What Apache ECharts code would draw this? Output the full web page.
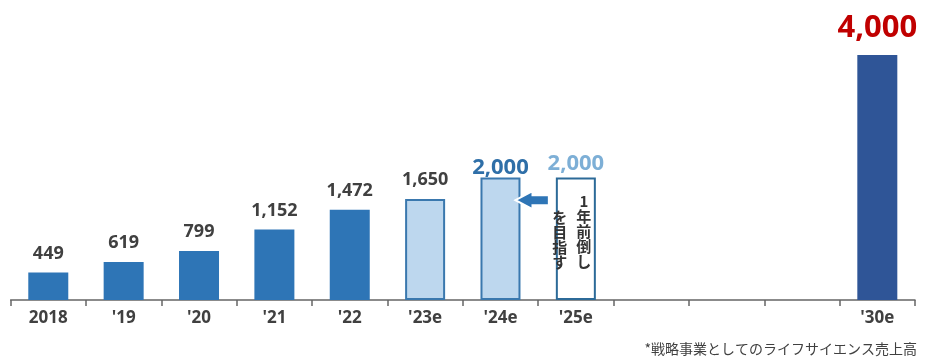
<!DOCTYPE html>
<html>
<head>
<meta charset="utf-8">
<script src="https://cdn.jsdelivr.net/npm/echarts@6/dist/echarts.min.js"></script>
<style>html,body{margin:0;padding:0;background:#fff;}#c{width:927px;height:362px;}</style>
</head>
<body>
<div id="c"></div>
<script>
const categories = ['2018', "'19", "'20", "'21", "'22", "'23e", "'24e", "'25e", '', '', '', "'30e"];
const values = [449, 619, 799, 1152, 1472, 1650, 2000, 2000, null, null, null, 4000];
const kinds = ['actual','actual','actual','actual','actual','plan','plan','target','none','none','none','goal'];
const noteRight = '1年前倒し';
const noteLeft = 'を目指す';
const footnote = '*戦略事業としてのライフサイエンス売上高';

const NUM_FONT = '"Open Sans", "Noto Sans", sans-serif';
const JP_FONT = '"Noto Sans CJK JP", sans-serif';

function fmt(v) { return String(v).replace(/\B(?=(\d{3})+(?!\d))/g, ','); }

const styleFor = {
  actual: { item: { color: '#2E75B6' }, label: { color: '#404040', fontSize: 18, distance: 10 } },
  plan: { item: { color: '#BDD7EE', borderColor: '#3A78AE', borderWidth: 2 }, label: { color: '#404040', fontSize: 18, distance: 10 } },
  target: { item: { color: '#FFFFFF', borderColor: '#2C6A98', borderWidth: 2 }, label: { color: '#7DAFD6', fontSize: 22, distance: 3 } },
  goal: { item: { color: '#2F5597' }, label: { color: '#C00000', fontSize: 31, distance: 11 } },
  none: { item: {}, label: {} }
};

const seriesData = values.map((v, i) => {
  const s = styleFor[kinds[i]];
  const d = { value: v, itemStyle: s.item, label: Object.assign({}, s.label) };
  if (i === 6) { d.label = { color: '#2F6FA8', fontSize: 22, distance: -1 }; }
  return d;
});

const chart = echarts.init(document.getElementById('c'), null, { renderer: 'canvas' });
chart.setOption({
  animation: false,
  grid: { left: 10.6, right: 12, top: 55, bottom: 62 },
  xAxis: {
    type: 'category',
    data: categories,
    axisLine: { lineStyle: { color: '#666666', width: 1.5 } },
    axisTick: { show: true, length: 6, lineStyle: { color: '#666666', width: 1.5 } },
    axisLabel: { color: '#404040', fontSize: 17, fontWeight: 'bold', fontFamily: NUM_FONT, margin: 10, interval: 0 }
  },
  yAxis: { type: 'value', min: 0, max: 4000, show: false, splitLine: { show: false } },
  series: [{
    type: 'bar',
    barWidth: 40,
    data: seriesData,
    label: {
      show: true,
      position: 'top',
      fontWeight: 'bold',
      fontFamily: NUM_FONT,
      formatter: p => (p.value == null ? '' : fmt(p.value))
    }
  }]
});

const p24 = chart.convertToPixel({ seriesIndex: 0 }, ["'24e", 1630]);
const p25 = chart.convertToPixel({ seriesIndex: 0 }, ["'25e", 2000]);
const ay = p24[1];
const tip = p24[0] + 15, headBase = p24[0] + 32, tail = p25[0] - 27;

chart.setOption({
  graphic: [
    {
      type: 'polygon',
      shape: { points: [[tip, ay], [headBase, ay - 9], [headBase, ay - 5], [tail, ay - 5], [tail, ay + 5], [headBase, ay + 5], [headBase, ay + 9]] },
      style: { fill: '#2E75B6', stroke: '#FFFFFF', lineWidth: 2 },
      z: 10
    },
    {
      type: 'text',
      x: p25[0] + 8, y: p25[1] + 16,
      style: { text: noteRight.split('').join('\n'), fill: '#333333', font: 'bold 15px ' + JP_FONT, align: 'center', verticalAlign: 'top', lineHeight: 15 },
      z: 10
    },
    {
      type: 'text',
      x: p25[0] - 16, y: p25[1] + 32,
      style: { text: noteLeft.split('').join('\n'), fill: '#333333', font: 'bold 15px ' + JP_FONT, align: 'center', verticalAlign: 'top', lineHeight: 15 },
      z: 10
    },
    {
      type: 'text',
      right: 10, top: 342,
      style: { text: footnote, fill: '#404040', font: '14px ' + JP_FONT },
      z: 10
    }
  ]
});
</script>
</body>
</html>
